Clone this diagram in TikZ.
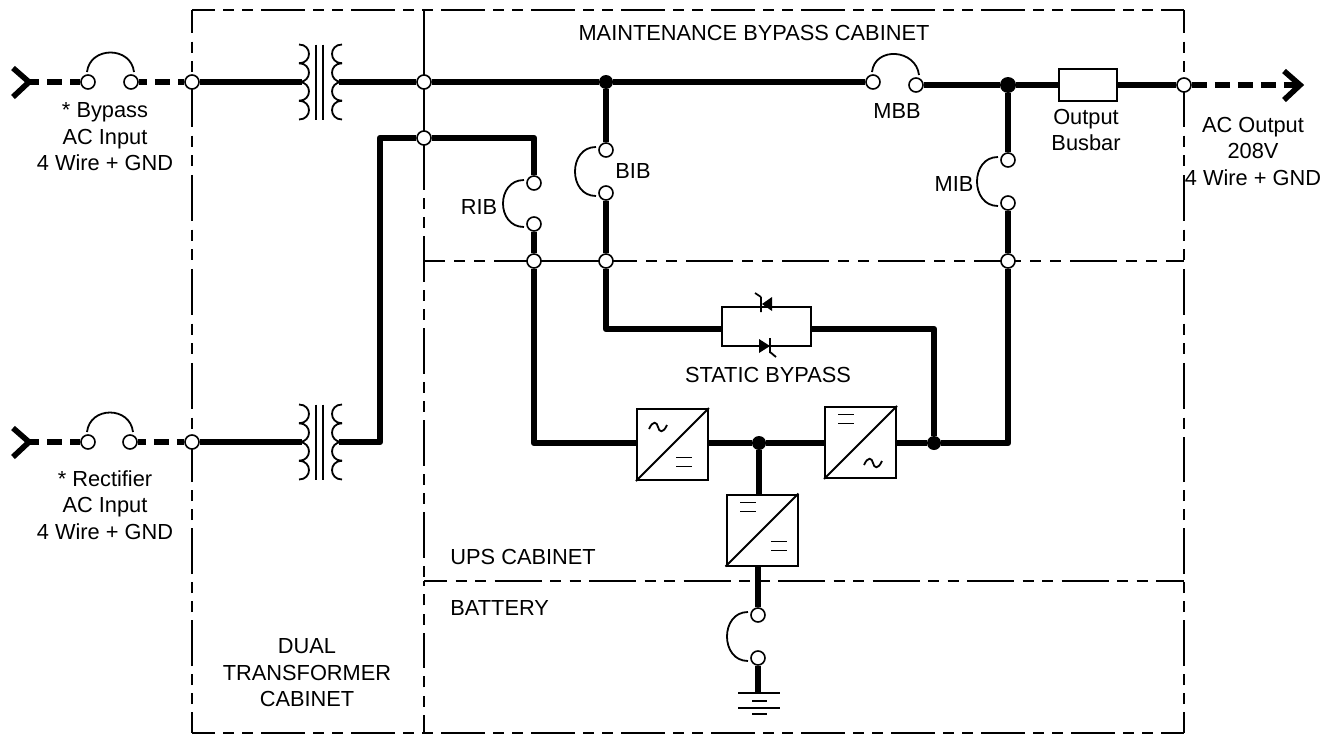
\documentclass[tikz,border=0pt]{standalone}
\usepackage{fontspec}
\setmainfont{Liberation Sans}
\usepackage{tikz}
\usetikzlibrary{calc}
\tikzset{
    term/.style={circle,draw,fill=white,line width=.8pt,inner sep=0pt,minimum size=7pt},
    blob/.style={circle,fill=black,inner sep=0pt,minimum size=7pt},
    conv/.style={rectangle,draw,fill=white,line width=1pt,inner sep=0pt,minimum size=35.5pt},
    wire/.style={line width=3.2pt,line join=round},
    feed/.style={line width=2.8pt,dash pattern=on 7.5pt off 4pt},
    tipline/.style={line width=2.8pt,line join=miter},
    frameline/.style 2 args={line width=.7pt,dash pattern=on #1pt off #2pt on 5.5pt off #2pt on 5.5pt off #2pt},
    bow/.style={line width=.9pt},
    thinline/.style={line width=.9pt},
    label/.style={align=center,inner sep=0pt,font=\fontsize{10.9}{13.25}\selectfont}
}
\def\bowtop#1#2{\draw[bow] ($(#1)+(-1,-10)$) .. controls ($(#1)+(2,-36)$) and ($(#2)+(0,-36)$) .. ($(#2)+(3,-10)$);}
\def\bowleft#1#2{\draw[bow] ($(#1)+(-10,-3)$) .. controls ($(#1)+(-38,-3)$) and ($(#2)+(-38,3)$) .. ($(#2)+(-10,3)$);}
\def\dcsign{(-8,-4.5) -- (8,-4.5) (-8,4.5) -- (8,4.5)}
\def\acsign{(-9,2) .. controls (-5,-7) and (-1,-5) .. (0,0) .. controls (1,5) and (5,7) .. (9,-2)}
\def\xformer#1{
    \begin{scope}[shift={#1}]
        \draw[thinline] (-4,-37.5) -- (-4,37.5) (3,-37.5) -- (3,37.5);
        \foreach \y in {-37.5,-18.75,0,18.75} {
            \draw[thinline] (-21,\y) .. controls (-7.7,\y) and (-7.7,\y+18.75) .. (-21,\y+18.75);
            \draw[thinline] (22,\y) .. controls (8.7,\y) and (8.7,\y+18.75) .. (22,\y+18.75);
        }
    \end{scope}
}

\begin{document}
\begin{tikzpicture}[x=.5pt,y=-.5pt]
    \useasboundingbox (0,0) rectangle (1330,734);
    % cabinet outlines
    \draw[frameline={22}{4},dash phase=10.5pt] (192,10) -- (1184,10);
    \draw[frameline={22}{4},dash phase=10.5pt] (192,733) -- (1184,733);
    \draw[frameline={23}{4.33},dash phase=11.5pt] (192,10) -- (192,442);
    \draw[frameline={23}{4},dash phase=12.5pt] (192,733) -- (192,442);
    \draw[frameline={23}{4.33},dash phase=11.5pt] (1184,10) -- (1184,442);
    \draw[frameline={23}{4},dash phase=12.5pt] (1184,733) -- (1184,442);
    \draw[line width=.7pt] (424,10) -- (424,144);
    \draw[frameline={23}{4}] (424,144) -- (424,581);
    \draw[frameline={17.5}{4.17},dash phase=8.5pt] (424,733) -- (424,581);
    \draw[frameline={23.5}{4.5},dash phase=13pt] (424,261) -- (534,261);
    \draw[line width=.7pt] (534,261) -- (606,261);
    \draw[frameline={23.5}{4.5},dash phase=8pt] (606,261) -- (1184,261);
    \draw[frameline={23.5}{4.25},dash phase=12pt] (424,581) -- (1184,581);

    % terminals
    \node[term] (bypa) at (88,82) {};
    \node[term] (bypb) at (131,82) {};
    \node[term] (bypin) at (192,82) {};
    \node[term] (recta) at (88,442) {};
    \node[term] (rectb) at (130,442) {};
    \node[term] (rectin) at (192,442) {};
    \node[term] (topj) at (424,82) {};
    \node[term] (ribj) at (424,138) {};
    \node[term] (mbba) at (873,82) {};
    \node[term] (mbbb) at (916,85) {};
    \node[term] (outj) at (1184,85) {};
    \node[term] (ribt) at (534,183) {};
    \node[term] (ribb) at (534,224) {};
    \node[term] (bibt) at (606,150) {};
    \node[term] (bibb) at (606,193) {};
    \node[term] (mibt) at (1008,160) {};
    \node[term] (mibb) at (1008,203) {};
    \node[term] (ribm) at (534,261) {};
    \node[term] (bibm) at (606,261) {};
    \node[term] (mibm) at (1008,261) {};
    \node[term] (batt) at (758,615) {};
    \node[term] (batb) at (758,658) {};
    \node[blob] (bibdot) at (606,82) {};
    \node[blob,minimum size=8pt] (mibdot) at (1008,85) {};
    \node[blob] (dcdot) at (759,443) {};
    \node[blob] (invdot) at (934,443) {};

    % boxes
    \node[rectangle,draw,fill=white,line width=1pt,inner sep=0pt,minimum width=29pt,minimum height=16pt] (busbar) at (1088,85) {};
    \node[rectangle,draw,line width=1pt,inner sep=0pt,minimum width=44.5pt,minimum height=19.5pt] (sbox) at (766.5,326.5) {};
    \node[conv] (rectconv) at (672.5,444.5) {};
    \node[conv] (invconv) at (860.5,442.5) {};
    \node[conv] (batconv) at (762,530) {};
    \foreach \c in {rectconv,invconv,batconv} {
        \draw[thinline] (\c.south west) -- (\c.north east);
    }
    \draw[thinline,shift={(658,427)}] \acsign;
    \draw[thinline,shift={(684,462)}] \dcsign;
    \draw[thinline,shift={(846,419)}] \dcsign;
    \draw[thinline,shift={(873,463)}] \acsign;
    \draw[thinline,shift={(748,507)}] \dcsign;
    \draw[thinline,shift={(779,546)}] \dcsign;

    % transformers
    \xformer{(320,82)}
    \xformer{(320,442)}
    \coordinate (xaleft) at (302,82);
    \coordinate (xaright) at (339,82);
    \coordinate (xbleft) at (302,442);
    \coordinate (xbright) at (339,442);

    % feeds
    \coordinate (bypend) at (29,82);
    \coordinate (rectend) at (29,442);
    \coordinate (outend) at (1296,85);
    \draw[feed,dash phase=2.5pt] (bypend) -- (bypa);
    \draw[feed,dash phase=3.5pt] (bypb) -- (bypin);
    \draw[feed,dash phase=2.5pt] (rectend) -- (recta);
    \draw[feed,dash phase=3.5pt] (rectb) -- (rectin);
    \draw[feed] (outj) -- (outend);
    \draw[tipline] (13,68) -- (bypend) -- (13,97);
    \draw[tipline] (13,428) -- (rectend) -- (13,457);
    \draw[tipline] (1284,71) -- (1300,85) -- (1284,100);

    % wiring
    \draw[wire] (bypin) -- (xaleft);
    \draw[wire] (xaright) -- (topj);
    \draw[wire] (topj) -- (bibdot) -- (mbba);
    \draw[wire] (mbbb) -- (mibdot) -- (busbar);
    \draw[wire] (busbar) -- (outj);
    \draw[wire] (rectin) -- (xbleft);
    \draw[wire] (xbright) -- (380,442) -- (380,138) -- (ribj);
    \draw[wire] (ribj) -- (534,138) -- (ribt);
    \draw[wire] (ribb) -- (ribm);
    \draw[wire] (ribm) -- (534,443) -- (rectconv.west |- dcdot);
    \draw[wire] (bibdot) -- (bibt);
    \draw[wire] (bibb) -- (bibm);
    \draw[wire] (bibm) -- (606,329) -- (sbox.west |- 606,329);
    \draw[wire] (sbox.east |- 934,329) -- (934,329) -- (invdot);
    \draw[wire] (rectconv.east |- dcdot) -- (dcdot) -- (invconv.west |- dcdot);
    \draw[wire] (invconv.east |- invdot) -- (invdot) -- (1008,443) -- (mibm);
    \draw[wire] (mibm) -- (mibb);
    \draw[wire] (mibt) -- (mibdot);
    \draw[wire] (dcdot) -- (dcdot |- batconv.north);
    \draw[wire] (batconv.south -| batt) -- (batt);
    \coordinate (gnd) at (758,693);
    \draw[wire] (batb) -- (gnd);

    % breaker bows
    \bowtop{bypa}{bypb}
    \bowtop{recta}{rectb}
    \bowtop{mbba}{mbbb}
    \bowleft{ribt}{ribb}
    \bowleft{bibt}{bibb}
    \bowleft{mibt}{mibb}
    \bowleft{batt}{batb}

    % ground
    \draw[thinline] (738,693) -- (780,693) (752,701) -- (767,701);
    \draw[thinline] (738,708) -- (780,708) (752,714) -- (767,714);

    % thyristors
    \fill (762,304) -- (772,297) -- (772,311) -- cycle;
    \draw[thinline] (761,297) -- (761,312) (761,297) -- (755,293);
    \fill (770,346) -- (759,339) -- (759,353) -- cycle;
    \draw[thinline] (770,338) -- (770,353) (770,352) -- (776,357);

    % text
    \node[label] (maint) at (754,33) {MAINTENANCE BYPASS CABINET};
    \node[label] (bypt) at (105,137) {* Bypass\\AC Input\\4 Wire + GND};
    \node[label] (rectt) at (105,505) {* Rectifier\\AC Input\\4 Wire + GND};
    \node[label] (mbbt) at (897,111) {MBB};
    \node[label] (bust) at (1086,130) {Output\\Busbar};
    \node[label] (outt) at (1253,151) {AC Output\\208V\\4 Wire + GND};
    \node[label] (bibl) at (633,171) {BIB};
    \node[label] (ribl) at (479,207) {RIB};
    \node[label] (mibl) at (954,184) {MIB};
    \node[label] (statt) at (768,375) {STATIC BYPASS};
    \node[label,anchor=west] (upst) at (450,557) {UPS CABINET};
    \node[label,anchor=west] (batl) at (450,608) {BATTERY};
    \node[label] (dualt) at (307,673) {DUAL\\TRANSFORMER\\CABINET};
\end{tikzpicture}
\end{document}
